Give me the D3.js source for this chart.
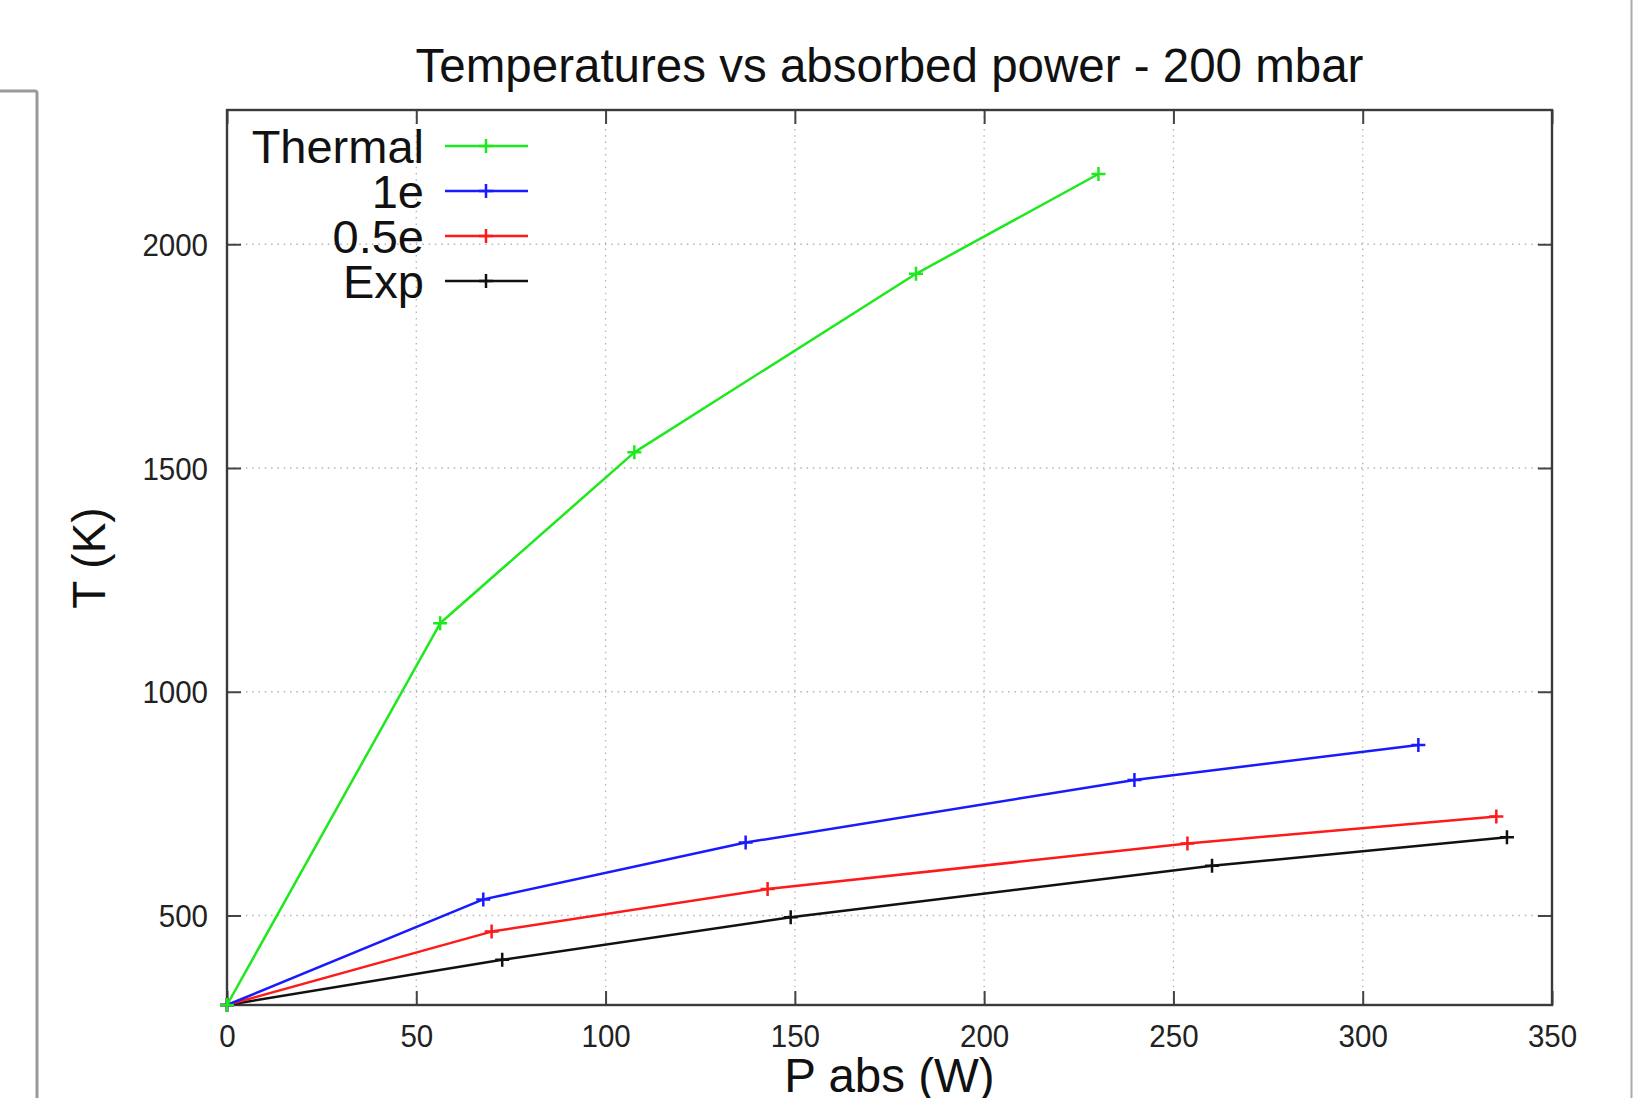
<!DOCTYPE html>
<html>
<head>
<meta charset="utf-8">
<script src="https://cdn.jsdelivr.net/npm/d3@7"></script>
<style>
	html, body { margin: 0; padding: 0; background: #fff; overflow: hidden; }
	svg { display: block; }
	.tick-label { font-family: "Liberation Sans", Arial, Helvetica, sans-serif; font-size: 32px; fill: #222; }
	.big-text { font-family: "Liberation Sans", Arial, Helvetica, sans-serif; fill: #111; }
</style>
</head>
<body>
<svg id="chart" width="1633" height="1098"></svg>
<script>
(function () {
	//DATA
	var seriesNames = ["Thermal", "1e", "0.5e", "Exp"];
	var seriesColors = ["#1ee81e", "#1a1aff", "#ff1a1a", "#111111"];
	var thermalX = [0, 56.3, 107.6, 182.0, 230.2];
	var thermalY = [300, 1153, 1535, 1934, 2157];
	var e1X = [0, 67.7, 137.0, 239.7, 314.7];
	var e1Y = [300, 536, 663, 803, 881];
	var e05X = [0, 69.9, 142.8, 253.7, 335.3];
	var e05Y = [300, 464, 559, 661, 721];
	var expX = [0, 72.7, 148.9, 260.2, 338.1];
	var expY = [300, 401, 496, 611, 675];
	var xTicks = [0, 50, 100, 150, 200, 250, 300, 350];
	var yTicks = [500, 1000, 1500, 2000];
	var titleText = "Temperatures vs absorbed power - 200 mbar";
	var xLabel = "P abs (W)";
	var yLabel = "T (K)";

	//LAYOUT
	var plot = { left: 227, right: 1552, top: 110, bottom: 1005 };
	var tickLen = 14;
	var digitW = 16.4; // narrow-looking tick digits

	var series = [
		{ name: seriesNames[0], color: seriesColors[0], xs: thermalX, ys: thermalY },
		{ name: seriesNames[1], color: seriesColors[1], xs: e1X, ys: e1Y },
		{ name: seriesNames[2], color: seriesColors[2], xs: e05X, ys: e05Y },
		{ name: seriesNames[3], color: seriesColors[3], xs: expX, ys: expY }
	];
	series.forEach(function (s) {
		s.points = s.xs.map(function (x, i) { return { x: x, y: s.ys[i] }; });
	});

	var x = d3.scaleLinear().domain([0, 350]).range([plot.left, plot.right]);
	var y = d3.scaleLinear().domain([300, 2300]).range([plot.bottom, plot.top]);

	var svg = d3.select("#chart");

	// page decoration: gray panel edges
	svg.append("path")
		.attr("d", "M -10 91 L 35 91 Q 37 91 37 93 L 37 1110")
		.attr("fill", "none")
		.attr("stroke", "#9a9a9a")
		.attr("stroke-width", 3);
	svg.append("line")
		.attr("x1", 1631.5).attr("x2", 1631.5).attr("y1", 0).attr("y2", 1098)
		.attr("stroke", "#aaaaaa")
		.attr("stroke-width", 2);

	// grid
	var grid = svg.append("g").attr("class", "grid");
	grid.selectAll("line.vgrid")
		.data(xTicks.filter(function (d) { return d > 0 && d < 350; }))
		.enter().append("line")
		.attr("class", "vgrid")
		.attr("x1", function (d) { return x(d); })
		.attr("x2", function (d) { return x(d); })
		.attr("y1", plot.top).attr("y2", plot.bottom)
		.attr("stroke", "#b4b4b4").attr("stroke-width", 1.3)
		.attr("stroke-dasharray", "1.5,4.8");
	grid.selectAll("line.hgrid")
		.data(yTicks)
		.enter().append("line")
		.attr("class", "hgrid")
		.attr("x1", plot.left).attr("x2", plot.right)
		.attr("y1", function (d) { return y(d); })
		.attr("y2", function (d) { return y(d); })
		.attr("stroke", "#b4b4b4").attr("stroke-width", 1.3)
		.attr("stroke-dasharray", "1.5,4.8");

	// axes (inward ticks on all four sides)
	var axisBottom = d3.axisBottom(x).tickValues(xTicks).tickSize(-tickLen).tickFormat(d3.format("d"));
	var axisTop = d3.axisTop(x).tickValues(xTicks).tickSize(-tickLen).tickFormat("");
	var axisLeft = d3.axisLeft(y).tickValues(yTicks).tickSize(-tickLen).tickFormat(d3.format("d"));
	var axisRight = d3.axisRight(y).tickValues(yTicks).tickSize(-tickLen).tickFormat("");

	function styleAxis(g) {
		g.select(".domain").remove();
		g.selectAll(".tick line").attr("stroke", "#444").attr("stroke-width", 2);
		g.selectAll(".tick text")
			.attr("class", "tick-label").attr("fill", null)
			.attr("lengthAdjust", "spacingAndGlyphs")
			.attr("textLength", function (d) { return String(d).length * digitW; });
	}

	svg.append("g").attr("transform", "translate(0," + plot.bottom + ")").call(axisBottom).call(styleAxis)
		.selectAll(".tick text").attr("dy", null).attr("y", 42);
	svg.append("g").attr("transform", "translate(0," + plot.top + ")").call(axisTop).call(styleAxis);
	svg.append("g").attr("transform", "translate(" + plot.left + ",0)").call(axisLeft).call(styleAxis)
		.selectAll(".tick text").attr("x", -19).attr("dy", "0.35em");
	svg.append("g").attr("transform", "translate(" + plot.right + ",0)").call(axisRight).call(styleAxis);

	// frame
	svg.append("rect")
		.attr("x", plot.left).attr("y", plot.top)
		.attr("width", plot.right - plot.left).attr("height", plot.bottom - plot.top)
		.attr("fill", "none").attr("stroke", "#3a3a3a").attr("stroke-width", 2.4);

	// series lines
	var line = d3.line()
		.x(function (d) { return x(d.x); })
		.y(function (d) { return y(d.y); });

	var mk = 7;
	function plusPath(cx, cy) {
		return "M" + (cx - mk) + "," + cy + "H" + (cx + mk) + "M" + cx + "," + (cy - mk) + "V" + (cy + mk);
	}

	var seriesG = svg.selectAll("g.series")
		.data(series.slice().reverse()).enter().append("g")
		.attr("class", "series");
	seriesG.append("path")
		.attr("d", function (d) { return line(d.points); })
		.attr("fill", "none")
		.attr("stroke", function (d) { return d.color; })
		.attr("stroke-width", 2.5)
		.attr("stroke-linejoin", "round");
	seriesG.selectAll("path.marker")
		.data(function (d) { return d.points.map(function (p) { return { p: p, color: d.color }; }); })
		.enter().append("path")
		.attr("class", "marker")
		.attr("d", function (d) { return plusPath(x(d.p.x), y(d.p.y)); })
		.attr("stroke", function (d) { return d.color; })
		.attr("stroke-width", 2.5);

	// legend
	var legendY = d3.scaleLinear().domain([0, 3]).range([146, 281]);
	var legend = svg.selectAll("g.legend")
		.data(series).enter().append("g")
		.attr("class", "legend");
	legend.append("text")
		.attr("class", "big-text")
		.attr("x", 424)
		.attr("y", function (d, i) { return legendY(i) + 17; })
		.attr("text-anchor", "end")
		.style("font-size", "47px")
		.text(function (d) { return d.name; });
	legend.append("line")
		.attr("x1", 445).attr("x2", 528)
		.attr("y1", function (d, i) { return legendY(i); })
		.attr("y2", function (d, i) { return legendY(i); })
		.attr("stroke", function (d) { return d.color; })
		.attr("stroke-width", 2.5);
	legend.append("path")
		.attr("d", function (d, i) { return plusPath(486, legendY(i)); })
		.attr("stroke", function (d) { return d.color; })
		.attr("stroke-width", 2.5);

	// title and axis labels
	svg.append("text")
		.attr("class", "big-text")
		.attr("x", (plot.left + plot.right) / 2)
		.attr("y", 82)
		.attr("text-anchor", "middle")
		.style("font-size", "47.5px")
		.text(titleText);
	svg.append("text")
		.attr("class", "big-text")
		.attr("x", (plot.left + plot.right) / 2)
		.attr("y", 1092)
		.attr("text-anchor", "middle")
		.style("font-size", "47.5px")
		.text(xLabel);
	svg.append("text")
		.attr("class", "big-text")
		.attr("transform", "translate(105,558) rotate(-90)")
		.attr("text-anchor", "middle")
		.style("font-size", "46px")
		.text(yLabel);
})();
</script>
</body>
</html>
